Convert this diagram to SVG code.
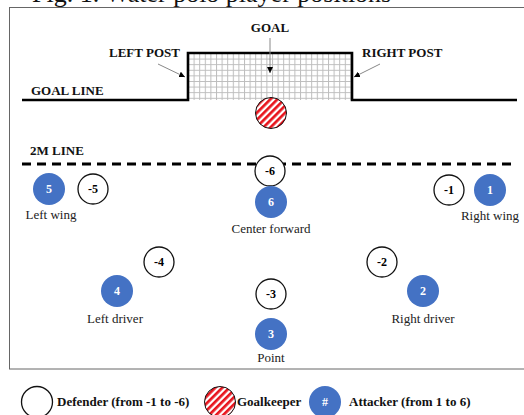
<svg xmlns="http://www.w3.org/2000/svg" width="524" height="415" viewBox="0 0 524 415">
  <style>
    .serif { font-family: "Liberation Serif", "Times New Roman", serif; }
    .lbl { font-family: "Liberation Serif", "Times New Roman", serif; font-size: 13px; font-weight: bold; fill: #111; }
    .role { font-family: "Liberation Serif", "Times New Roman", serif; font-size: 13px; fill: #222; text-anchor: middle; }
    .num { font-family: "Liberation Serif", "Times New Roman", serif; font-size: 12px; font-weight: bold; text-anchor: middle; }
    .def { fill: #fff; stroke: #111; stroke-width: 1.3; }
    .att { fill: #4472C4; }
    .gk { fill: url(#hatch); stroke: #111; stroke-width: 1; }
    .pointer { stroke: #888; stroke-width: 1; fill: none; }
  </style>
  <defs>
    <pattern id="net" patternUnits="userSpaceOnUse" x="188" y="53" width="5.6" height="5.6">
      <path d="M0 0.5H5.6 M0.5 0V5.6" stroke="#bdbdbd" stroke-width="1" fill="none"/>
    </pattern>
    <pattern id="hatch" patternUnits="userSpaceOnUse" width="5" height="5" patternTransform="rotate(45)">
      <rect width="5" height="5" fill="#fff"/>
      <rect width="2.7" height="5" fill="#e8141c"/>
    </pattern>
    <marker id="tip" viewBox="0 0 10 10" refX="10" refY="5" markerWidth="6" markerHeight="6" orient="auto" markerUnits="userSpaceOnUse">
      <path d="M0 0L10 5L0 10z" fill="#000"/>
    </marker>
  </defs>

  <!-- caption line, running off the top edge -->
  <text class="serif" x="32" y="2" font-size="26" fill="#111">Fig. 1. Water polo player positions</text>

  <!-- pool frame -->
  <rect x="9.5" y="7.5" width="530" height="361.5" fill="none" stroke="#666" stroke-width="1"/>

  <!-- goal net and goal line -->
  <rect x="188" y="53" width="164" height="47" fill="url(#net)"/>
  <path d="M22 100H188V53H352V100H517" fill="none" stroke="#000" stroke-width="2.6"/>

  <!-- 2 m line -->
  <line x1="22" y1="164" x2="512" y2="164" stroke="#000" stroke-width="3" stroke-dasharray="9 6"/>

  <!-- field labels -->
  <text class="lbl" x="270" y="32" text-anchor="middle">GOAL</text>
  <text class="lbl" x="109" y="57">LEFT POST</text>
  <text class="lbl" x="362" y="57">RIGHT POST</text>
  <text class="lbl" x="31" y="95">GOAL LINE</text>
  <text class="lbl" x="30" y="155">2M LINE</text>

  <!-- pointers -->
  <g id="connectors">
    <line class="pointer" x1="270" y1="38" x2="270" y2="73" marker-end="url(#tip)"/>
    <line class="pointer" x1="158" y1="64" x2="185" y2="77" marker-end="url(#tip)"/>
    <line class="pointer" x1="380" y1="64" x2="354" y2="77" marker-end="url(#tip)"/>
  </g>

  <!-- goalkeeper -->
  <g id="goalkeeper">
    <circle class="gk" cx="271" cy="113" r="15.5"/>
  </g>

  <!-- defenders -->
  <g id="def-1"><circle class="def" cx="449" cy="190" r="15"/><text class="num" x="449" y="194">-1</text></g>
  <g id="def-2"><circle class="def" cx="382" cy="262" r="15"/><text class="num" x="382" y="266">-2</text></g>
  <g id="def-3"><circle class="def" cx="271" cy="294" r="15"/><text class="num" x="271" y="298">-3</text></g>
  <g id="def-4"><circle class="def" cx="159" cy="262" r="15"/><text class="num" x="159" y="266">-4</text></g>
  <g id="def-5"><circle class="def" cx="93" cy="189" r="15"/><text class="num" x="93" y="193">-5</text></g>
  <g id="def-6"><circle class="def" cx="270" cy="171" r="15"/><text class="num" x="270" y="175">-6</text></g>

  <!-- attackers -->
  <g id="att-1"><circle class="att" cx="490" cy="190" r="16"/><text class="num" x="490" y="194" fill="#fff">1</text>
    <text class="role" x="490" y="220">Right wing</text></g>
  <g id="att-2"><circle class="att" cx="423" cy="291" r="16"/><text class="num" x="423" y="295" fill="#fff">2</text>
    <text class="role" x="423" y="323">Right driver</text></g>
  <g id="att-3"><circle class="att" cx="271" cy="334" r="16"/><text class="num" x="271" y="338" fill="#fff">3</text>
    <text class="role" x="271" y="362">Point</text></g>
  <g id="att-4"><circle class="att" cx="117" cy="291" r="16"/><text class="num" x="117" y="295" fill="#fff">4</text>
    <text class="role" x="115" y="323">Left driver</text></g>
  <g id="att-5"><circle class="att" cx="49" cy="189" r="16"/><text class="num" x="49" y="193" fill="#fff">5</text>
    <text class="role" x="51" y="219">Left wing</text></g>
  <g id="att-6"><circle class="att" cx="271" cy="202" r="16"/><text class="num" x="271" y="206" fill="#fff">6</text>
    <text class="role" x="271" y="233">Center forward</text></g>

  <!-- legend -->
  <g id="legend">
    <circle class="def" cx="37" cy="402" r="15.5"/>
    <text class="lbl" x="57" y="406">Defender (from -1 to -6)</text>
    <circle class="gk" cx="220" cy="402" r="15.5"/>
    <text class="lbl" x="237" y="406">Goalkeeper</text>
    <circle class="att" cx="325" cy="402" r="16"/>
    <text class="num" x="325" y="406" fill="#fff">#</text>
    <text class="lbl" x="349" y="406">Attacker (from 1 to 6)</text>
  </g>
</svg>
